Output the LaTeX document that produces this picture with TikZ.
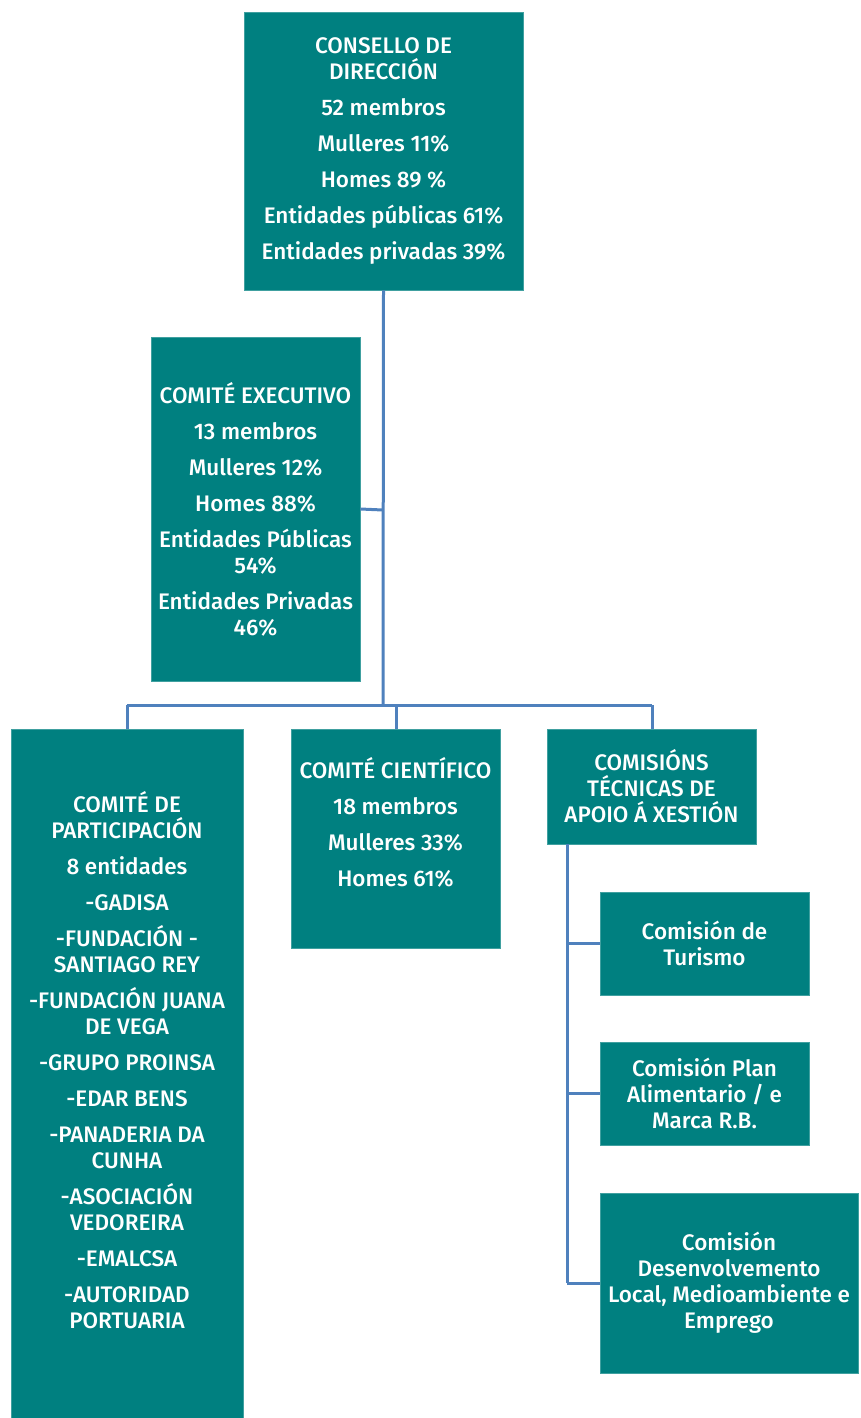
\documentclass[tikz,border=0pt]{standalone}
\usepackage{fontspec}
\setmainfont{Fira Sans}[UprightFont={* Medium}]
\definecolor{boxteal}{HTML}{008080}
\definecolor{linkblue}{HTML}{4F81BD}

\tikzstyle{orgbox} = [fill=boxteal,draw=boxteal!75!white,line width=0.6pt,inner sep=0pt,
  text=white,align=center,font=\fontsize{22.5}{26}\selectfont]
\tikzstyle{link} = [draw=linkblue,line width=3pt]
\newcommand{\gap}{\\[10pt]}

\begin{document}
\begin{tikzpicture}[x=1pt,y=-1pt]
      \useasboundingbox (0,0) rectangle (860,1418);
      %nodes
      \node[orgbox, minimum width=279, minimum height=278] (consello) at (383.5,151)
        {CONSELLO DE\\DIRECCIÓN\gap 52 membros\gap Mulleres 11\%\gap Homes 89 \%\gap
         Entidades públicas 61\%\gap Entidades privadas 39\%};
      \node[orgbox, minimum width=209, minimum height=344] (executivo) at (255.5,509)
        {COMITÉ EXECUTIVO\gap 13 membros\gap Mulleres 12\%\gap Homes 88\%\gap
         Entidades Públicas\\54\%\gap Entidades Privadas\\46\%};
      \node[orgbox, minimum width=232, minimum height=689] (participacion) at (127,1073.5)
        {COMITÉ DE\\PARTICIPACIÓN\gap 8 entidades\gap -GADISA\gap -FUNDACIÓN -\\SANTIAGO REY\gap
         -FUNDACIÓN JUANA\\DE VEGA\gap -GRUPO PROINSA\gap -EDAR BENS\gap -PANADERIA DA\\CUNHA\gap
         -ASOCIACIÓN\\VEDOREIRA\gap -EMALCSA\gap -AUTORIDAD\\PORTUARIA\\[2pt]\mbox{}};
      \node[orgbox, minimum width=209, minimum height=219] (cientifico) at (395.5,838.5)
        {COMITÉ CIENTÍFICO\gap 18 membros\gap Mulleres 33\%\gap Homes 61\%\\[8pt]\mbox{}};
      \node[orgbox, minimum width=209, minimum height=115] (comisions) at (651.5,786.5)
        {COMISIÓNS\\TÉCNICAS DE\\APOIO Á XESTIÓN};
      \foreach \nodename/\y/\w/\h/\cx/\label in {
        turismo/943.5/209/103/704.5/{Comisión de\\Turismo},
        plan/1093.5/209/103/704.5/{Comisión Plan\\Alimentario / e\\Marca R.B.},
        desenvolvemento/1283/258/180/729/{Comisión\\Desenvolvemento\\Local, Medioambiente e\\Emprego}}
      {
        \node[orgbox, minimum width=\w, minimum height=\h] (\nodename) at (\cx,\y) {\label};
      };
      %edges
      \coordinate (trunk) at (383,705);
      \coordinate (exec joint) at (383,510);
      \coordinate (bus left) at (127,705);
      \coordinate (bus mid) at (396,705);
      \coordinate (bus right) at (652,705);
      \coordinate (side top) at (567,844);
      \path[link] (consello.south) -- (trunk);
      \path[link] (exec joint) -- (executivo.east);
      \path[link] (bus left) -- (bus right);
      \path[link] (bus left) -- (participacion.north);
      \path[link] (bus mid) -- (cientifico.north -| bus mid);
      \path[link] (bus right) -- (comisions.north -| bus right);
      \path[link] (side top) -- (side top |- desenvolvemento.west);
      \foreach \endnode in {turismo, plan, desenvolvemento}
      {
        \path[link] (side top |- \endnode.west) -- (\endnode.west);
      };
    \end{tikzpicture}
\end{document}
